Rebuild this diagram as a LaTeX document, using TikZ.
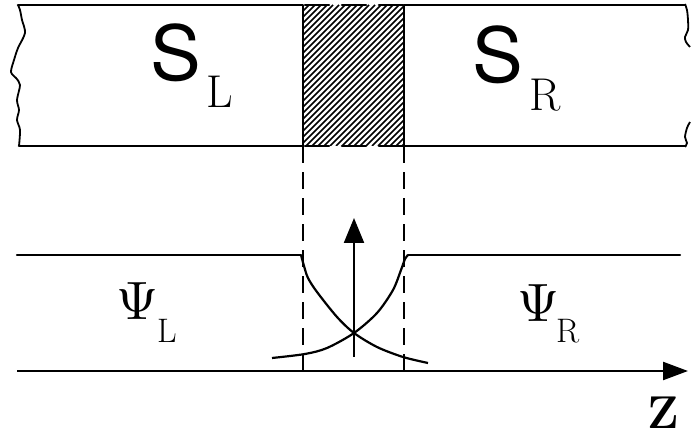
\documentclass[tikz,border=0pt]{standalone}
\usepackage{fontspec}
\newfontfamily\slabfont{TeX Gyre Heros}
\usetikzlibrary{arrows.meta}

\begin{document}
\begin{tikzpicture}[
	x=1pt, y=1pt,
	slabline/.style={black, line width=2.6pt, line cap=round, line join=round},
	hatchline/.style={black, line width=1.5pt},
	guideline/.style={black, line width=2pt, dash pattern=on 17pt off 9pt},
	levelline/.style={black, line width=2.2pt, line cap=round},
	waveline/.style={black, line width=1.8pt, line join=round},
	wavefn/.style={black, line width=2.2pt},
	vecarrow/.style={black, line width=2.2pt, -{Triangle[length=25pt, width=20pt]}},
	axisarrow/.style={black, line width=2.4pt, -{Triangle[length=25pt, width=18pt]}},
	slabletter/.style={inner sep=0pt, anchor=base west, font=\slabfont\fontsize{76}{80}\selectfont},
	slabindex/.style={inner sep=0pt, anchor=base west, font=\rmfamily\fontsize{46}{50}\selectfont},
	psiletter/.style={inner sep=0pt, anchor=base west, scale=5.4},
	psiindex/.style={inner sep=0pt, anchor=base west, font=\rmfamily\fontsize{34}{38}\selectfont},
	axislabel/.style={inner sep=0pt, anchor=base, font=\bfseries\fontsize{46}{50}\selectfont},
]

\pgfmathsetmacro{\xa}{303}   % left edge of the barrier
\pgfmathsetmacro{\xb}{404}   % right edge of the barrier
\pgfmathsetmacro{\ytop}{433}
\pgfmathsetmacro{\ybot}{292}
\pgfmathsetmacro{\ylev}{183}
\pgfmathsetmacro{\yax}{67}

\useasboundingbox (0,0) rectangle (691,438);

% barrier hatching
\begin{scope}
	\clip (\xa,\ybot) rectangle (\xb,\ytop);
	\foreach \i in {0,...,42} {
		\draw[hatchline] ({\xa-141+\i*6},\ybot) -- ++(141,141);
	}
\end{scope}
\draw[slabline, dash pattern=on 24pt off 13pt] (\xa+2,\ytop) -- (\xb-1,\ytop);
\draw[slabline, dash pattern=on 24pt off 13pt] (\xa+2,\ybot) -- (\xb-1,\ybot);

% left superconductor
\draw[slabline] (19,\ybot) -- (\xa,\ybot) -- (\xa,\ytop) -- (18,\ytop);
\draw[waveline] plot[smooth] coordinates {
	(18,433) (20,428) (22,418) (25,405) (18,390) (14,378) (11,366) (16,360)
	(20,353) (17,338) (19,328) (17,318) (20,308) (19,292)};

% right superconductor
\draw[slabline] (685,\ytop) -- (\xb,\ytop) -- (\xb,\ybot) -- (685,\ybot);
\draw[waveline] plot[smooth] coordinates {
	(685,434) (687,428) (688,418) (688,408) (685,401) (686,396) (690,391)};
\draw[waveline] plot[smooth] coordinates {
	(690,316) (687,310) (685,301) (687,295) (685,291)};

\node[slabletter] (SL) at (150,357) {S};
\node[slabindex] (SLi) at (206,330) {L};
\node[slabletter] (SR) at (472,355) {S};
\node[slabindex] (SRi) at (529,327) {R};

% guide lines down to the axis
\draw[guideline] (\xa,\yax) -- (\xa,\ybot);
\draw[guideline] (\xb,\yax) -- (\xb,\ybot);

% order parameter levels
\draw[levelline] (17,\ylev) -- (\xa-2,\ylev);
\draw[levelline] (\xb+4,\ylev) -- (680,\ylev);

% decaying tails
\draw[wavefn] plot[smooth] coordinates {
	(\xa-2,\ylev) (304,172) (308,160) (317,146) (337,121) (354,105)
	(377,91) (403,81) (428,75)};
\draw[wavefn] plot[smooth] coordinates {
	(272,80) (305,84) (327,90) (354,105) (377,125) (393,148)
	(401,168) (405,179) (\xb+4,\ylev)};

\node[psiletter] (PsiL) at (115,118) {$\Psi$};
\node[psiindex] (PsiLi) at (157,95) {L};
\node[psiletter] (PsiR) at (516,116) {$\Psi$};
\node[psiindex] (PsiRi) at (556,95) {R};

% current arrow
\coordinate (jbot) at (354,81);
\coordinate (jtop) at (354,220);
\draw[vecarrow] (jbot) -- (jtop);

% z axis
\coordinate (zstart) at (17,\yax);
\coordinate (zend) at (688,\yax);
\draw[axisarrow] (zstart) -- (zend);
\node[axislabel] (zlab) at (663,9) {Z};

\end{tikzpicture}
\end{document}
